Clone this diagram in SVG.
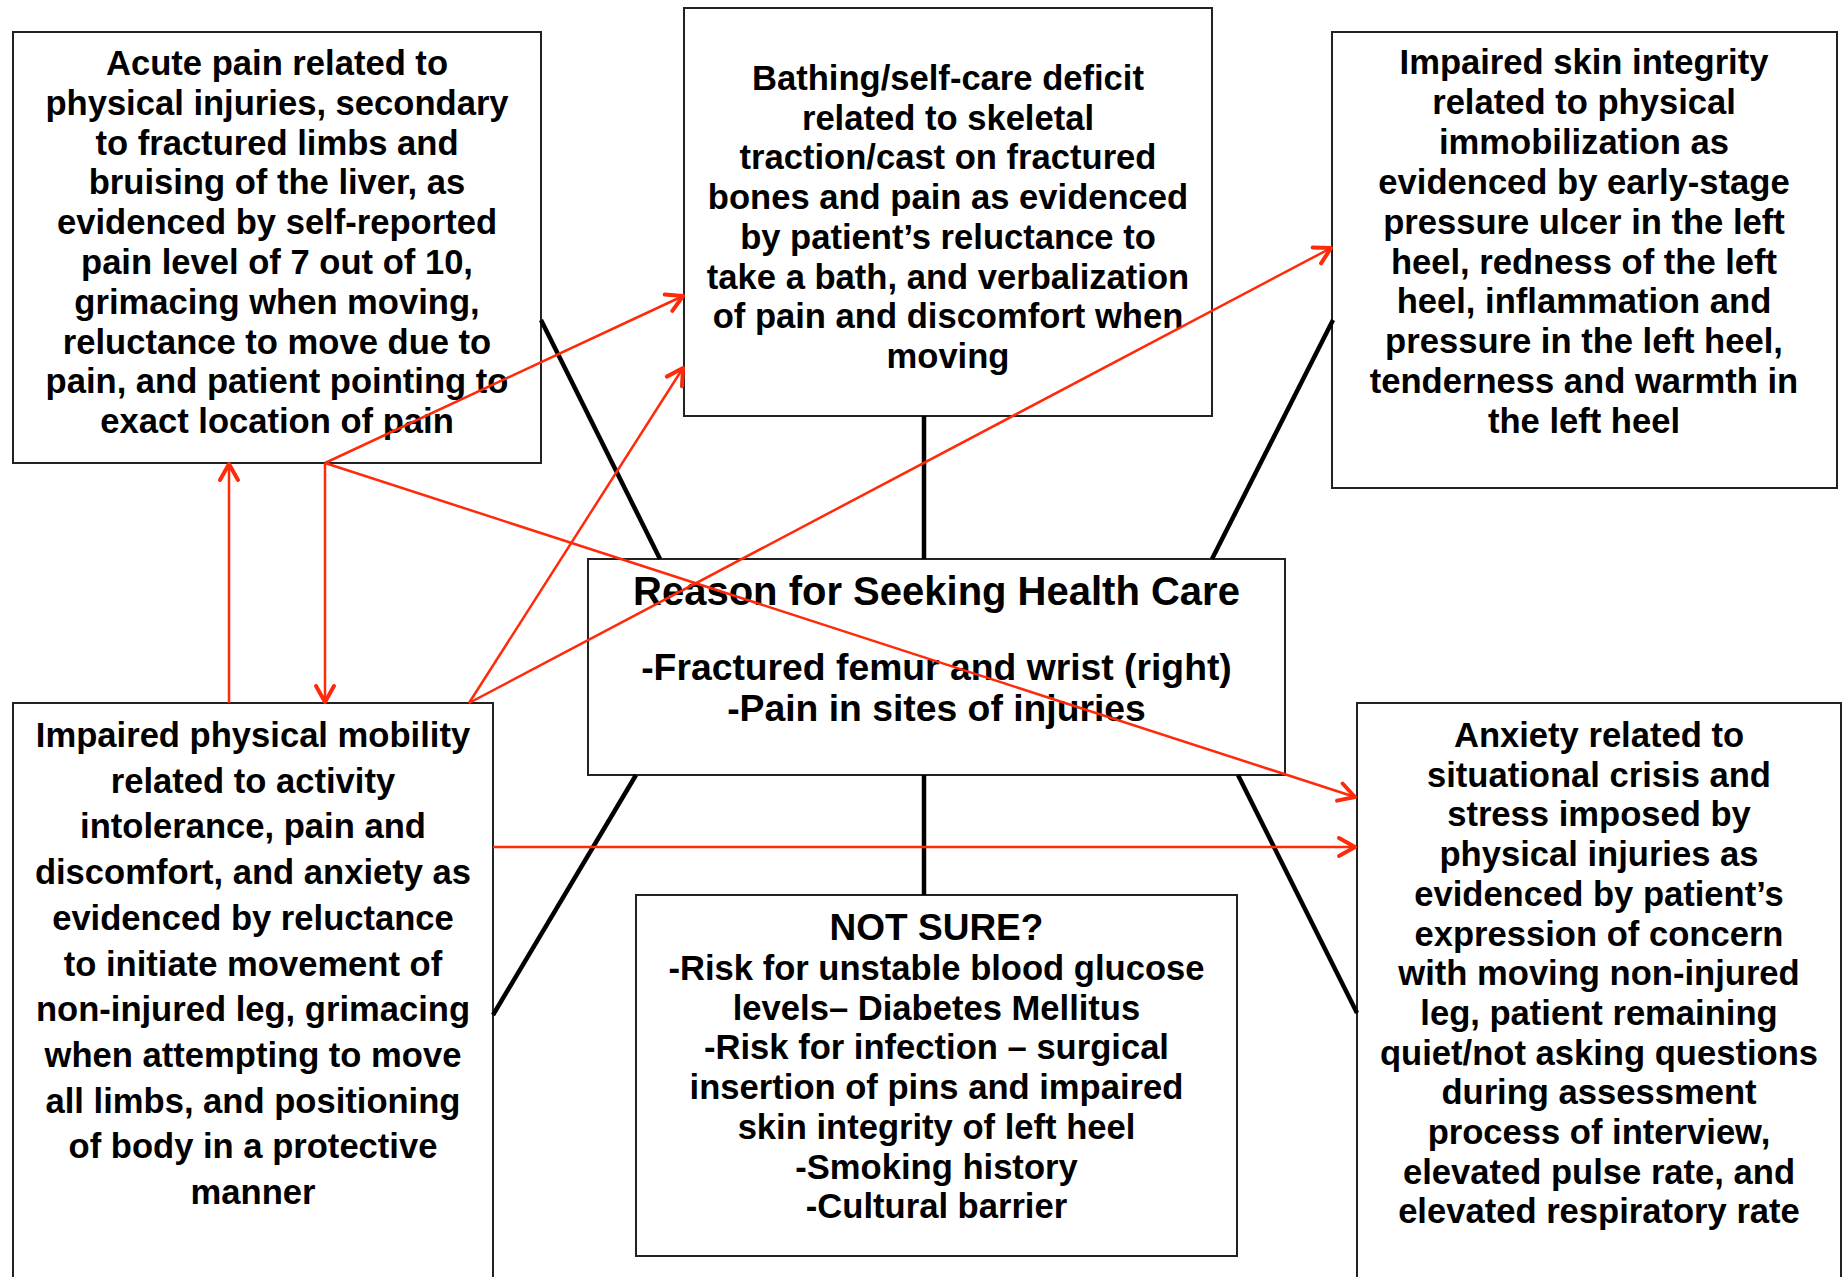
<svg xmlns="http://www.w3.org/2000/svg" width="1847" height="1277" viewBox="0 0 1847 1277">
<style>
.box{fill:#fff;stroke:#222;stroke-width:2}
.t{font-family:"Liberation Sans",Arial,Helvetica,sans-serif;font-weight:bold;font-size:34.6px;fill:#000;text-anchor:middle}
.bone{stroke:#000;stroke-width:4.5;fill:none}
.rel{stroke:#ff2a0a;stroke-width:2.5;fill:none;marker-end:url(#arr)}
</style>
<defs>
<marker id="arr" markerUnits="userSpaceOnUse" markerWidth="26" markerHeight="26" viewBox="0 0 26 26" refX="20" refY="13" orient="auto">
<path d="M4,4 L20,13 L4,22" fill="none" stroke="#ff2a0a" stroke-width="4" stroke-linecap="round" stroke-linejoin="round"/>
</marker>
</defs>
<rect width="1847" height="1277" fill="#fff"/>
<g id="node-acute-pain">
<rect class="box" x="13" y="32" width="528" height="431"/>
<text class="t" x="277" y="75">Acute pain related to<tspan x="277" dy="39.8">physical injuries, secondary</tspan><tspan x="277" dy="39.8">to fractured limbs and</tspan><tspan x="277" dy="39.8">bruising of the liver, as</tspan><tspan x="277" dy="39.8">evidenced by self-reported</tspan><tspan x="277" dy="39.8">pain level of 7 out of 10,</tspan><tspan x="277" dy="39.8">grimacing when moving,</tspan><tspan x="277" dy="39.8">reluctance to move due to</tspan><tspan x="277" dy="39.8">pain, and patient pointing to</tspan><tspan x="277" dy="39.8">exact location of pain</tspan></text>
</g>
<g id="node-bathing">
<rect class="box" x="684" y="8" width="528" height="408"/>
<text class="t" x="948" y="90">Bathing/self-care deficit<tspan x="948" dy="39.7">related to skeletal</tspan><tspan x="948" dy="39.7">traction/cast on fractured</tspan><tspan x="948" dy="39.7">bones and pain as evidenced</tspan><tspan x="948" dy="39.7">by patient’s reluctance to</tspan><tspan x="948" dy="39.7">take a bath, and verbalization</tspan><tspan x="948" dy="39.7">of pain and discomfort when</tspan><tspan x="948" dy="39.7">moving</tspan></text>
</g>
<g id="node-skin">
<rect class="box" x="1332" y="32" width="505" height="456"/>
<text class="t" x="1584" y="74">Impaired skin integrity<tspan x="1584" dy="39.9">related to physical</tspan><tspan x="1584" dy="39.9">immobilization as</tspan><tspan x="1584" dy="39.9">evidenced by early-stage</tspan><tspan x="1584" dy="39.9">pressure ulcer in the left</tspan><tspan x="1584" dy="39.9">heel, redness of the left</tspan><tspan x="1584" dy="39.9">heel, inflammation and</tspan><tspan x="1584" dy="39.9">pressure in the left heel,</tspan><tspan x="1584" dy="39.9">tenderness and warmth in</tspan><tspan x="1584" dy="39.9">the left heel</tspan></text>
</g>
<g id="node-reason">
<rect class="box" x="588" y="559" width="697" height="216"/>
<text class="t" x="936.5" y="605" style="font-size:40px">Reason for Seeking Health Care</text>
<text class="t" x="936.5" y="680" style="font-size:37.3px">-Fractured femur and wrist (right)<tspan x="936.5" dy="41">-Pain in sites of injuries</tspan></text>
</g>
<g id="node-mobility">
<rect class="box" x="13" y="703" width="480" height="590"/>
<text class="t" x="253" y="747">Impaired physical mobility<tspan x="253" dy="45.7">related to activity</tspan><tspan x="253" dy="45.7">intolerance, pain and</tspan><tspan x="253" dy="45.7">discomfort, and anxiety as</tspan><tspan x="253" dy="45.7">evidenced by reluctance</tspan><tspan x="253" dy="45.7">to initiate movement of</tspan><tspan x="253" dy="45.7">non-injured leg, grimacing</tspan><tspan x="253" dy="45.7">when attempting to move</tspan><tspan x="253" dy="45.7">all limbs, and positioning</tspan><tspan x="253" dy="45.7">of body in a protective</tspan><tspan x="253" dy="45.7">manner</tspan></text>
</g>
<g id="node-not-sure">
<rect class="box" x="636" y="895" width="601" height="361"/>
<text class="t" x="936.5" y="940" style="font-size:37px">NOT SURE?</text>
<text class="t" x="936.5" y="980">-Risk for unstable blood glucose<tspan x="936.5" dy="39.7">levels– Diabetes Mellitus</tspan><tspan x="936.5" dy="39.7">-Risk for infection – surgical</tspan><tspan x="936.5" dy="39.7">insertion of pins and impaired</tspan><tspan x="936.5" dy="39.7">skin integrity of left heel</tspan><tspan x="936.5" dy="39.7">-Smoking history</tspan><tspan x="936.5" dy="39.7">-Cultural barrier</tspan></text>
</g>
<g id="node-anxiety">
<rect class="box" x="1357" y="703" width="484" height="590"/>
<text class="t" x="1599" y="747">Anxiety related to<tspan x="1599" dy="39.7">situational crisis and</tspan><tspan x="1599" dy="39.7">stress imposed by</tspan><tspan x="1599" dy="39.7">physical injuries as</tspan><tspan x="1599" dy="39.7">evidenced by patient’s</tspan><tspan x="1599" dy="39.7">expression of concern</tspan><tspan x="1599" dy="39.7">with moving non-injured</tspan><tspan x="1599" dy="39.7">leg, patient remaining</tspan><tspan x="1599" dy="39.7">quiet/not asking questions</tspan><tspan x="1599" dy="39.7">during assessment</tspan><tspan x="1599" dy="39.7">process of interview,</tspan><tspan x="1599" dy="39.7">elevated pulse rate, and</tspan><tspan x="1599" dy="39.7">elevated respiratory rate</tspan></text>
</g>
<g id="connectors">
<line class="bone" x1="541" y1="320" x2="660" y2="559"/>
<line class="bone" x1="924" y1="416" x2="924" y2="559"/>
<line class="bone" x1="1333" y1="320" x2="1212" y2="559"/>
<line class="bone" x1="636" y1="775" x2="493" y2="1015"/>
<line class="bone" x1="924" y1="775" x2="924" y2="895"/>
<line class="bone" x1="1238" y1="775" x2="1357" y2="1013"/>
<line class="rel" x1="325" y1="463" x2="683" y2="296"/>
<line class="rel" x1="325" y1="463" x2="325" y2="702"/>
<line class="rel" x1="325" y1="463" x2="1355" y2="797"/>
<line class="rel" x1="229" y1="703" x2="229" y2="464"/>
<line class="rel" x1="469" y1="703" x2="683" y2="368"/>
<line class="rel" x1="469" y1="703" x2="1331" y2="248"/>
<line class="rel" x1="493" y1="847" x2="1355" y2="847"/>
</g>
</svg>
